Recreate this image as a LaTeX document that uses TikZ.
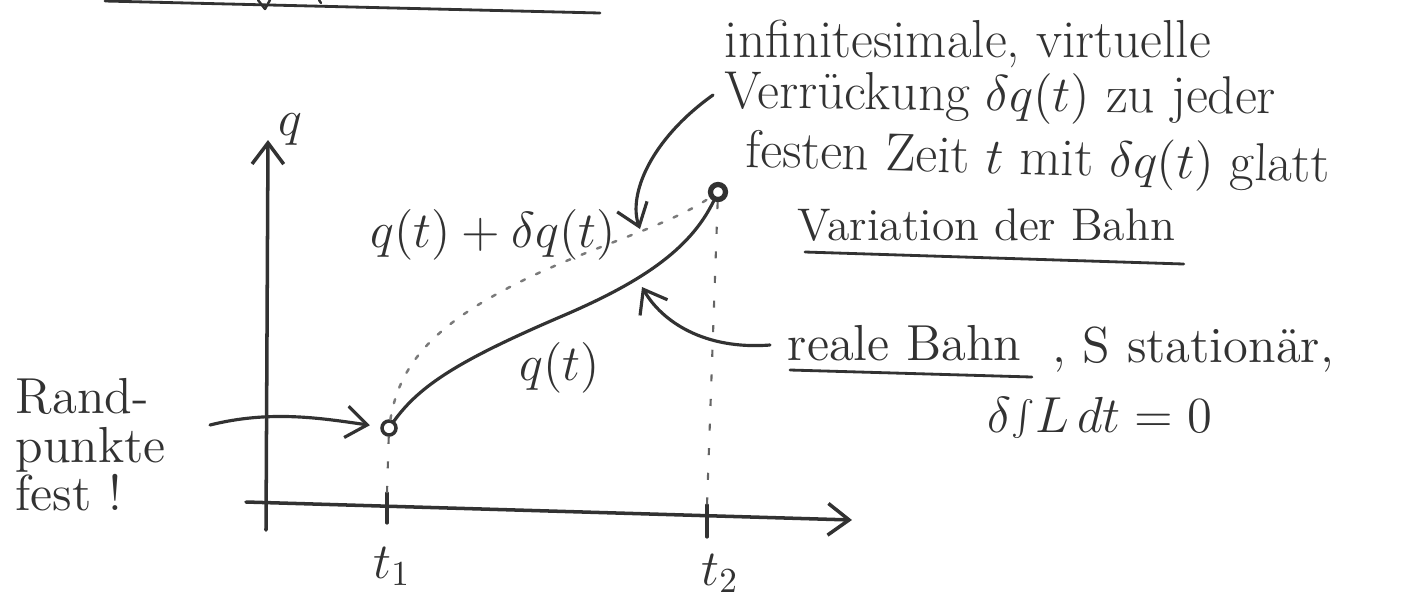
\documentclass[tikz,border=0pt]{standalone}
\usepackage{fontspec}
\usetikzlibrary{arrows.meta,calc}
\definecolor{pencil}{RGB}{50,50,50}
\begin{document}
\begin{tikzpicture}[x=0.01cm,y=-0.01cm,
  pen/.style={draw=pencil, line width=0.9pt, line cap=round, line join=round},
  barb/.style={-{Straight Barb[length=6pt,width=9pt]}},
  txt/.style={font=\fontsize{14.4}{17}\selectfont, text=pencil, inner sep=0pt},
  bigtxt/.style={txt, font=\fontsize{15.2}{18}\selectfont},
  smalltxt/.style={txt, font=\fontsize{13}{16}\selectfont},
  vdash/.style={draw=pencil!75, line width=0.6pt, dash pattern=on 2pt off 5pt},
  vdots/.style={draw=pencil!65, line width=0.7pt, dash pattern=on 1.2pt off 3.5pt, line cap=round},
  pt/.style={circle, draw=pencil, fill=white, inner sep=0pt}
]
\useasboundingbox (0,0) rectangle (1405,596);

% cut-off heading underline
\coordinate (h1) at (105,1);
\coordinate (h2) at (600,13);
\draw[pen, line width=0.8pt] (h1) -- (h2);
\draw[pen, line width=0.7pt] (258,0) -- (265,9) -- (270,0);
\draw[pen, line width=0.7pt] (319,0) -- (321,3);

% axes
\coordinate (yb) at (266,530);
\coordinate (yt) at (268,140);
\coordinate (xb) at (246,502);
\coordinate (xe) at (852,520);
\draw[pen, line width=1pt, barb] (yb) -- (yt);
\draw[pen, line width=1pt, barb] (xb) -- (xe);

% end points
\node[pt, line width=1pt, minimum size=0.14cm] (A) at (389,428) {};
\node[pt, line width=1.5pt, minimum size=0.15cm] (B) at (718,192) {};

% ticks and dashed verticals
\coordinate (t1a) at (387,493); \coordinate (t1b) at (387,523);
\coordinate (t2a) at (707,505); \coordinate (t2b) at (707,537);
\draw[pen] (t1a) -- (t1b);
\draw[pen] (t2a) -- (t2b);
\draw[vdash] (A) -- (t1a);
\draw[vdash] (B) -- (t2a);

% real path and varied path
\draw[pen] (A) .. controls (420,385) and (460,360) .. (560,317)
               .. controls (640,283) and (690,250) .. (B);
\draw[vdots] (A) .. controls (400,360) and (440,320) .. (530,277)
                 .. controls (600,244) and (670,225) .. (B);

% axis and curve labels
\node[txt, anchor=base] (lq) at (290,135) {$q$};
\node[txt, anchor=base] (lt1) at (392,578) {$t_1$};
\node[txt, anchor=base] (lt2) at (720,585) {$t_2$};
\node[txt, anchor=base] (lqd) at (493,247) {$q(t)+\delta q(t)$};
\node[txt, anchor=base] (lqt) at (560,380) {$q(t)$};

% right text block
\node[bigtxt, anchor=base west] (l1) at (724,57) {infinitesimale, virtuelle};
\node[bigtxt, anchor=base west, rotate=-0.6] (l2) at (724,108) {Verrückung $\delta q(t)$ zu jeder};
\node[bigtxt, anchor=base west, rotate=-1.5] (l3) at (745,167) {festen Zeit $t$ mit $\delta q(t)$ glatt};
\node[smalltxt, anchor=base west] (var) at (797,240) {Variation der Bahn};
\draw[pen, line width=0.8pt] ($(var.base west)+(8,12)$) -- ($(var.base east)+(8,24)$);

\node[txt, anchor=base west] (rb) at (787,360) {reale Bahn};
\draw[pen, line width=0.8pt] ($(rb.base west)+(3,10)$) -- ($(rb.base east)+(10,17)$);
\node[txt, anchor=base west] (st) at (1052,362) {, S stationär,};
\node[txt, anchor=base west] (dl) at (987,432) {$\delta\!\int\! L\,dt = 0$};

% Randpunkte
\node[txt, anchor=base west] (r1) at (15,413) {Rand-};
\node[txt, anchor=base west] (r2) at (15,462) {punkte};
\node[txt, anchor=base west] (r3) at (15,510) {fest !};

% arrows
\coordinate (ra) at (210,425);
\draw[pen, barb, shorten >=3pt] (ra) .. controls (270,410) and (320,418) .. (A);
\coordinate (va) at (713,95);
\coordinate (vb) at (640,229);
\draw[pen, barb] (va) .. controls (650,140) and (628,195) .. (vb);
\coordinate (rs) at (770,345);
\coordinate (re) at (642,287);
\draw[pen, barb] (rs) .. controls (705,350) and (662,322) .. (re);
\end{tikzpicture}
\end{document}
